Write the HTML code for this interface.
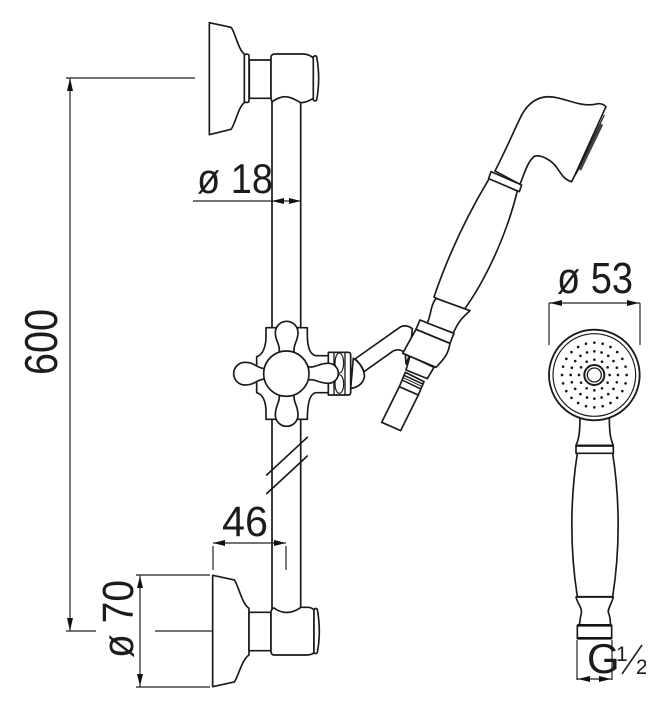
<!DOCTYPE html>
<html><head><meta charset="utf-8">
<style>
html,body{margin:0;padding:0;background:#fff;width:666px;height:720px;overflow:hidden}
svg{display:block}
text{font-family:"Liberation Sans",sans-serif;fill:#1c1c1c}
.l{fill:#fff;stroke:#1a1a1a;stroke-width:5;stroke-linejoin:round;stroke-linecap:round}
.n{fill:none;stroke:#1a1a1a;stroke-width:5;stroke-linejoin:round;stroke-linecap:round}
.d{fill:none;stroke:#222;stroke-width:1.2}
.a{fill:#111;stroke:none}
</style></head><body>
<svg width="666" height="720" viewBox="0 0 666 720" xmlns="http://www.w3.org/2000/svg">
<rect width="666" height="720" fill="#fff"/>

<!-- rail -->
<path d="M272 100V630M300.7 100V630" fill="none" stroke="#1a1a1a" stroke-width="1.7"/>

<!-- top bracket -->
<g transform="translate(190,10) scale(.3333)">
<path class="l" d="M58 38L123 52C135 65 145 120 163 132V278C145 290 135 345 123 358L58 374Z"/>
<path class="l" d="M178 150H243V265H178Z"/>
<path class="l" d="M163 135Q170 130 177 135V275Q170 280 163 275Z"/>
<path class="l" d="M243 150V140Q245 132 255 132H340Q360 133 370 145V265Q350 278 332 278C310 265 290 255 270 263Q255 268 246 276L243 265Z"/>
<path class="l" d="M370 140Q377 135 380 140Q392 205 380 270Q375 276 370 270Z"/>
</g>

<!-- bottom bracket -->
<g transform="translate(100,500) scale(.3333)">
<path class="l" d="M338 226L403 240C415 255 425 310 447 325V465C425 480 415 530 403 546L338 560Z"/>
<path class="l" d="M447 337H513V452H447Z"/>
<path class="l" d="M513 452V335Q516 325 522 324Q560 352 603 322H625Q640 324 642 332V458Q635 465 620 465H522Q513 465 513 452Z"/>
<path class="l" d="M642 328Q648 323 652 328Q664 395 652 458Q647 464 642 458Z"/>
</g>

<!-- cross -->
<g transform="translate(220,300) scale(.3333)">
<path class="l" d="M138 83H262V105C262 140 270 165 288 167H325V278H288C270 280 262 310 262 358H138V335C138 305 128 282 110 278V170C128 165 138 140 138 110Z"/>
<path class="l" d="M178 155C180 130 166 125 166 98A34 34 0 0 1 234 98C234 125 220 130 222 155Z"/>
<path class="l" d="M178 285C180 310 166 315 166 345A33 33 0 0 0 234 345C234 315 220 310 222 285Z"/>
<path class="l" d="M135 206C110 205 105 187 75 187A34 34 0 0 0 75 255C105 255 110 238 135 237Z"/>
<path class="l" d="M400 175C425 190 440 225 430 240C425 255 410 262 392 266Z"/>
<path class="l" d="M325 157H385Q392 157 392 165V278Q392 285 385 285H325Z"/>
<path class="n" d="M342 157V285M375 157V285" style="stroke-width:4"/>
<ellipse class="n" cx="358" cy="189" rx="13" ry="30" style="stroke-width:3.5"/>
<ellipse class="n" cx="358" cy="252" rx="13" ry="28" style="stroke-width:3.5"/>
<path class="l" d="M265 200C285 205 295 190 325 190A30 30 0 0 1 325 250C295 250 285 235 265 240Z"/>
<circle class="l" cx="199" cy="221" r="68"/>
<path class="n" d="M140 525L262 412M140 581L262 468"/>
</g>

<!-- hand shower side -->
<g transform="translate(420,85) scale(.3333)">
<path class="l" d="M208 280C160 360 95 480 42 636L128 680C195 590 260 450 292 318Z"/>
<path class="l" d="M225 258C260 190 285 130 305 90C330 45 365 28 410 38C450 46 485 65 525 58Q545 52 558 65L465 270L455 290C435 285 425 270 412 250C395 225 365 210 345 213C325 225 315 260 300 298Z"/>
<path class="l" d="M213 260L305 300L298 320L206 281Z"/>
<path d="M546 118L480 255" fill="none" stroke="#444" stroke-width="8"/>
<path d="M553 90L468 268" fill="none" stroke="#1a1a1a" stroke-width="3.5"/>
</g>

<!-- swivel -->
<g transform="translate(330,290) scale(.3333)">
<path class="l" d="M75 207L205 115Q225 100 247 116L240 190L222 186Q205 174 188 184L102 245C95 225 85 215 75 207Z"/>
<path class="l" d="M155 397L212 422L265 315L208 290Z"/>
<path class="l" d="M208 290L265 315L282 275L226 247Z"/>
<path class="n" d="M222 256L278 282M216 270L271 296" style="stroke-width:4.5"/>
<path class="n" d="M220 263L275 289" style="stroke-width:3"/>
<path class="l" d="M228 240L292 266L312 232L240 198Z"/>
<path class="l" d="M226 194L238 198L228 222Z"/>
<path class="l" d="M258 118L218 190L318 232C345 205 355 190 360 160Z"/>
<path class="l" d="M270 90L372 130L360 160L258 118Z"/>
<path class="l" d="M318 25C300 50 305 70 292 99L370 129C385 95 395 85 420 62Z"/>
</g>

<!-- hand shower front -->
<g transform="translate(530,260) scale(.3333)">
<path class="l" d="M150 470C150 510 148 535 138 556H250C240 535 238 510 238 470Z"/>
<circle class="l" cx="193" cy="345" r="136" style="stroke-width:5.5"/>
<circle class="n" cx="193" cy="345" r="124" style="stroke-width:3.5"/>
<circle cx="193" cy="345" r="97" pathLength="24" fill="none" stroke="#1a1a1a" stroke-width="8" stroke-linecap="round" stroke-dasharray="0 1"/>
<circle cx="193" cy="345" r="71" pathLength="20" fill="none" stroke="#1a1a1a" stroke-width="8" stroke-linecap="round" stroke-dasharray="0 1"/>
<circle cx="193" cy="345" r="46" pathLength="12" fill="none" stroke="#1a1a1a" stroke-width="8" stroke-linecap="round" stroke-dasharray="0 1"/>
<circle class="n" cx="193" cy="345" r="30" style="stroke-width:6"/>
<circle class="n" cx="193" cy="345" r="21" style="stroke-width:4"/>
<rect class="l" x="138" y="558" width="112" height="22"/>
</g>
<g transform="translate(540,450) scale(.3333)">
<path class="l" d="M112 10C90 150 90 300 112 440H218C240 300 240 150 218 10Z"/>
<path class="l" d="M108 441H220C216 460 200 480 206 490C212 505 210 515 212 525H118C120 515 120 505 124 490C128 475 112 460 108 441Z"/>
<rect x="112" y="527" width="103" height="38" fill="#fff" stroke="#1a1a1a" stroke-width="5"/>
<path d="M112 526H215M112 565H215" stroke="#111" stroke-width="8" fill="none"/>
</g>

<!-- dimensions -->
<path class="d" d="M66 78H195M70 78V631M66 631H96"/>
<polygon class="a" points="70,78 67,91 73,91"/>
<polygon class="a" points="70,631 67,618 73,618"/>
<text transform="translate(57,375) rotate(-90)" font-size="46" textLength="66" lengthAdjust="spacingAndGlyphs">600</text>

<path class="d" d="M193 201H300"/>
<polygon class="a" points="272,201 284,198 284,204"/>
<polygon class="a" points="300.7,201 289,198 289,204"/>
<text x="197" y="193" font-size="42" textLength="76" lengthAdjust="spacingAndGlyphs">ø 18</text>

<path class="d" d="M213 543H286M213 546V570M286 546V570"/>
<polygon class="a" points="213,543 225,540 225,546"/>
<polygon class="a" points="286,543 274,540 274,546"/>
<text x="222" y="536" font-size="43" textLength="46" lengthAdjust="spacingAndGlyphs">46</text>

<path class="d" d="M136 575H210M136 687H210M140 575V687M155 631H213"/>
<polygon class="a" points="140,576 137,588 143,588"/>
<polygon class="a" points="140,686 137,674 143,674"/>
<text transform="translate(133,658) rotate(-90)" font-size="44" textLength="78" lengthAdjust="spacingAndGlyphs">ø 70</text>

<path class="d" d="M549 303V345M640 303V345M549 303H640"/>
<polygon class="a" points="550,303 562,300 562,306"/>
<polygon class="a" points="639,303 627,300 627,306"/>
<text x="557" y="293" font-size="44" textLength="76" lengthAdjust="spacingAndGlyphs">ø 53</text>

<path class="d" d="M577 640V680M612 640V680M577 679H612"/>
<polygon class="a" points="578,679 590,676 590,682"/>
<polygon class="a" points="611,679 599,676 599,682"/>
<text x="587" y="673" font-size="42">G</text>
<text x="616" y="661" font-size="21">1</text>
<path d="M622 674L642 645" stroke="#222" stroke-width="1.6" fill="none"/>
<text x="636" y="674" font-size="21">2</text>
<rect x="646" y="630" width="20" height="60" fill="#fff"/>
</svg>
</body></html>
